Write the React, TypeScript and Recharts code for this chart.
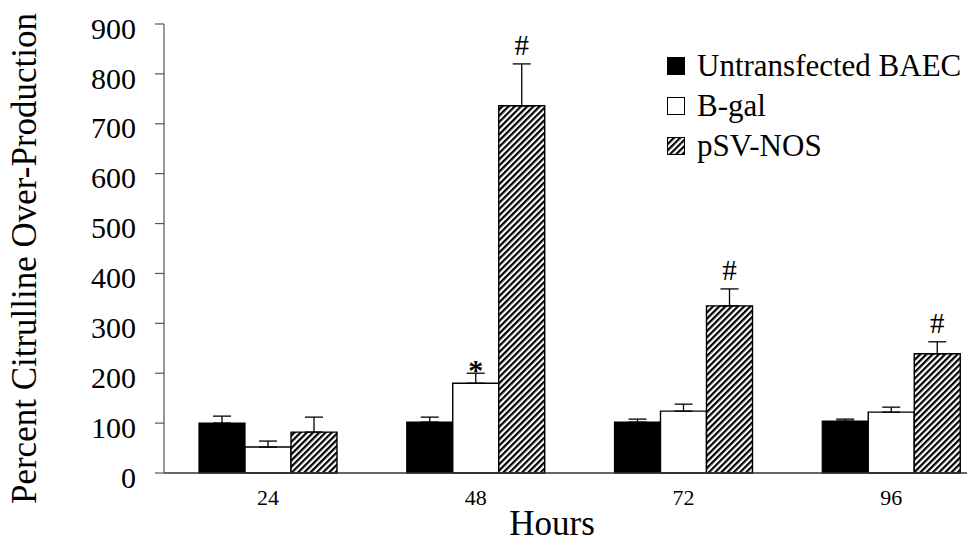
import { Bar, BarChart, ErrorBar, Label, LabelList, Legend, XAxis, YAxis } from "recharts";

const hours = ["24", "48", "72", "96"];
const untransfected = [100, 102, 102, 104];
const untransfectedErr = [14, 10, 6, 4];
const bgal = [52, 180, 124, 122];
const bgalErr = [12, 20, 14, 10];
const nos = [82, 736, 335, 239];
const nosErr = [30, 84, 34, 24];
const bgalMarks = ["", "*", "", ""];
const nosMarks = ["", "#", "#", "#"];
const yTicks = [0, 100, 200, 300, 400, 500, 600, 700, 800, 900];

const rows = hours.map((h, i) => ({
  hour: h,
  ctl: untransfected[i],
  ctlErr: [0, untransfectedErr[i]],
  bgal: bgal[i],
  bgalErr: [0, bgalErr[i]],
  bgalMark: bgalMarks[i],
  nos: nos[i],
  nosErr: [0, nosErr[i]],
  nosMark: nosMarks[i],
}));

const FONT = '"Liberation Serif", "DejaVu Serif", serif';

// "#" and "*" sit just above each error bar cap
const markLabel = (valueKey: string, errKey: string, star: boolean) => (props: any) => {
  const { index, value } = props;
  if (!value) return null;
  const vb = props.viewBox || {};
  const x = props.x ?? vb.x;
  const y = props.y ?? vb.y;
  const width = props.width ?? vb.width;
  const height = props.height ?? vb.height;
  const row: any = rows[index];
  if (!row) return null;
  const px = height / row[valueKey];
  const errTop = y - row[errKey][1] * px;
  return (
    <text
      x={x + width / 2}
      y={star ? errTop + 7 : errTop - 9}
      textAnchor="middle"
      style={{ fontFamily: FONT }}
      fontSize={star ? 30 : 29}
      fontWeight={star ? "bold" : "normal"}
      fill="#000"
    >
      {value}
    </text>
  );
};

const legendItems = [
  { name: "Untransfected BAEC", fill: "#000" },
  { name: "B-gal", fill: "#fff" },
  { name: "pSV-NOS", fill: "url(#hatch)" },
];

const renderLegend = () => (
  <div style={{ fontFamily: FONT, fontSize: 31, color: "#000" }}>
    {legendItems.map((it) => (
      <div key={it.name} style={{ display: "flex", alignItems: "center", height: 40, whiteSpace: "nowrap" }}>
        <svg width={19} height={19} style={{ marginRight: 11 }}>
          <rect x={0.5} y={0.5} width={17} height={17} fill={it.fill} stroke="#000" strokeWidth={1} />
        </svg>
        <span style={{ lineHeight: "40px" }}>{it.name}</span>
      </div>
    ))}
  </div>
);

const renderYLabel = (props: any) => {
  const vb = props.viewBox;
  const x = vb.x + 28;
  const y = vb.y + vb.height / 2 + 10;
  return (
    <text x={x} y={y} transform={`rotate(-90, ${x}, ${y})`} textAnchor="middle" style={{ fontFamily: FONT }} fontSize={35} fill="#000">
      Percent Citrulline Over-Production
    </text>
  );
};

const renderXLabel = (props: any) => {
  const vb = props.viewBox;
  return (
    <text x={vb.x + 388} y={vb.y + 62} textAnchor="middle" style={{ fontFamily: FONT }} fontSize={35} fill="#000">
      Hours
    </text>
  );
};

const App = () => {
  return (
    <div style={{ width: 967, height: 538, overflow: "hidden", position: "relative", background: "#fff", fontFamily: FONT }}>
      <svg width={0} height={0} style={{ position: "absolute" }}>
        <defs>
          <pattern id="hatch" width={4.4} height={4.4} patternUnits="userSpaceOnUse" patternTransform="rotate(45)">
            <rect width={4.4} height={4.4} fill="#fff" />
            <rect width={2.2} height={4.4} fill="#000" />
          </pattern>
        </defs>
      </svg>
      <BarChart
        width={987}
        height={538}
        data={rows}
        margin={{ top: 16, right: 0, bottom: 0, left: 0 }}
        barGap={0}
        barSize={46}
        style={{ fontFamily: FONT }}
      >
        <XAxis
          dataKey="hour"
          height={73}
          tickLine={false}
          tickSize={0}
          tickMargin={16}
          axisLine={{ stroke: "#333", strokeWidth: 1.4 }}
          tick={{ fontSize: 22, fill: "#000", style: { fontFamily: FONT } }}
        >
          <Label content={renderXLabel} />
        </XAxis>
        <YAxis
          width={156}
          domain={[0, 900]}
          ticks={yTicks}
          interval={0}
          tickSize={9}
          tickMargin={19}
          axisLine={{ stroke: "#555", strokeWidth: 1.2 }}
          tickLine={{ stroke: "#555", strokeWidth: 1.2 }}
          tick={{ fontSize: 30, fill: "#000", dy: 4, style: { fontFamily: FONT } }}
        >
          <Label content={renderYLabel} />
        </YAxis>
        <Legend
          layout="horizontal"
          verticalAlign="middle"
          align="center"
          content={renderLegend}
          wrapperStyle={{ left: 659, top: 38, width: 320 }}
        />
        <Bar dataKey="ctl" name="Untransfected BAEC" fill="#000" stroke="#000" strokeWidth={1.2} isAnimationActive={false}>
          <ErrorBar dataKey="ctlErr" direction="y" width={9} stroke="#000" strokeWidth={1.3} />
        </Bar>
        <Bar dataKey="bgal" name="B-gal" fill="#fff" stroke="#000" strokeWidth={1.4} isAnimationActive={false}>
          <ErrorBar dataKey="bgalErr" direction="y" width={9} stroke="#000" strokeWidth={1.3} />
          <LabelList dataKey="bgalMark" content={markLabel("bgal", "bgalErr", true)} />
        </Bar>
        <Bar dataKey="nos" name="pSV-NOS" fill="url(#hatch)" stroke="#000" strokeWidth={1.4} isAnimationActive={false}>
          <ErrorBar dataKey="nosErr" direction="y" width={9} stroke="#000" strokeWidth={1.3} />
          <LabelList dataKey="nosMark" content={markLabel("nos", "nosErr", false)} />
        </Bar>
      </BarChart>
    </div>
  );
};

export default App;
